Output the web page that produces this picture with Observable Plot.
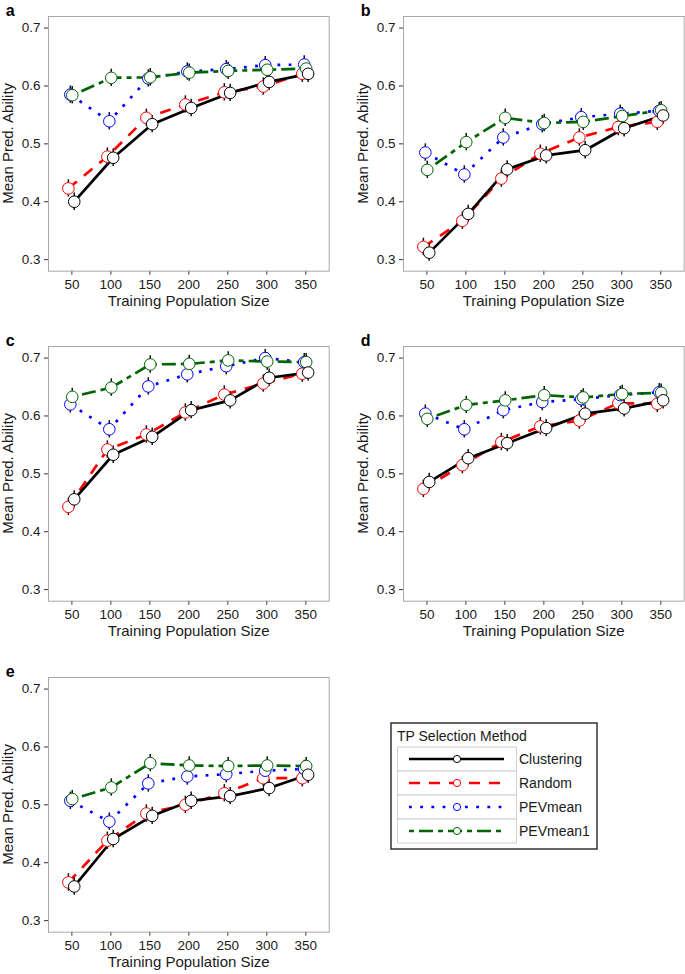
<!DOCTYPE html>
<html>
<head>
<meta charset="utf-8">
<script src="https://cdn.jsdelivr.net/npm/d3@7"></script>
<script src="https://cdn.jsdelivr.net/npm/@observablehq/plot@0.6"></script>
<style>
  body { margin: 0; background: #fff; }
  #chart { position: relative; width: 685px; height: 974px; overflow: hidden; background: #fff;
           font-family: "Liberation Sans", Arial, sans-serif; color: #1a1a1a; }
  #chart > svg { position: absolute; }
  #chart > svg.panel text { font-size: 13.5px; fill: #1a1a1a; }
</style>
</head>
<body>
<div id="chart"></div>
<script>
// ---------- data ----------
const sizes = [50, 100, 150, 200, 250, 300, 350];
const yTicks = [0.3, 0.4, 0.5, 0.6, 0.7];
const methods = ["Clustering", "Random", "PEVmean", "PEVmean1"];
const panelKeys = ["a", "b", "c", "d", "e"];
const legendTitle = "TP Selection Method";
const xTitle = "Training Population Size";
const yTitle = "Mean Pred. Ability";

const aClustering = [0.400, 0.476, 0.534, 0.562, 0.588, 0.607, 0.621];
const aRandom     = [0.423, 0.478, 0.545, 0.568, 0.589, 0.599, 0.621];
const aPEVmean    = [0.585, 0.539, 0.613, 0.625, 0.629, 0.636, 0.637];
const aPEVmean1   = [0.584, 0.614, 0.615, 0.623, 0.626, 0.628, 0.630];

const bClustering = [0.312, 0.379, 0.456, 0.480, 0.489, 0.527, 0.549];
const bRandom     = [0.322, 0.367, 0.440, 0.483, 0.511, 0.529, 0.538];
const bPEVmean    = [0.485, 0.447, 0.511, 0.534, 0.546, 0.552, 0.557];
const bPEVmean1   = [0.455, 0.503, 0.545, 0.536, 0.538, 0.548, 0.558];

const cClustering = [0.456, 0.533, 0.564, 0.610, 0.627, 0.666, 0.675];
const cRandom     = [0.443, 0.542, 0.568, 0.606, 0.637, 0.656, 0.673];
const cPEVmean    = [0.620, 0.577, 0.651, 0.672, 0.686, 0.700, 0.693];
const cPEVmean1   = [0.633, 0.649, 0.689, 0.690, 0.696, 0.694, 0.693];

const dClustering = [0.486, 0.527, 0.553, 0.579, 0.604, 0.613, 0.627];
const dRandom     = [0.474, 0.515, 0.555, 0.582, 0.592, 0.622, 0.621];
const dPEVmean    = [0.604, 0.577, 0.610, 0.624, 0.629, 0.636, 0.641];
const dPEVmean1   = [0.595, 0.619, 0.627, 0.636, 0.632, 0.638, 0.640];

const eClustering = [0.359, 0.441, 0.481, 0.507, 0.515, 0.529, 0.552];
const eRandom     = [0.366, 0.438, 0.485, 0.500, 0.520, 0.546, 0.546];
const ePEVmean    = [0.507, 0.471, 0.537, 0.549, 0.553, 0.559, 0.562];
const ePEVmean1   = [0.510, 0.530, 0.572, 0.568, 0.567, 0.568, 0.567];

const errHalf = 0.015; // half-length of the error bars

const seriesByPanel = {
  a: { Clustering: aClustering, Random: aRandom, PEVmean: aPEVmean, PEVmean1: aPEVmean1 },
  b: { Clustering: bClustering, Random: bRandom, PEVmean: bPEVmean, PEVmean1: bPEVmean1 },
  c: { Clustering: cClustering, Random: cRandom, PEVmean: cPEVmean, PEVmean1: cPEVmean1 },
  d: { Clustering: dClustering, Random: dRandom, PEVmean: dPEVmean, PEVmean1: dPEVmean1 },
  e: { Clustering: eClustering, Random: eRandom, PEVmean: ePEVmean, PEVmean1: ePEVmean1 }
};

// ---------- styles / layout ----------
const colors = { Clustering: "#000000", Random: "#ff0000", PEVmean: "#0000ff", PEVmean1: "#006400" };
const dashes = { Clustering: null, Random: "11,9", PEVmean: "2.8,8.4", PEVmean1: "5,5,14,5" };
const dodge = { Random: -4.5, PEVmean: -2, PEVmean1: 0.5, Clustering: 3 };
const drawOrder = ["Random", "PEVmean", "PEVmean1", "Clustering"];

// frame rectangles (left, top) of each panel
const frames = {
  a: { left: 48.3, top: 16 },
  b: { left: 403.3, top: 16 },
  c: { left: 48.3, top: 346 },
  d: { left: 403.3, top: 346 },
  e: { left: 48.3, top: 677 }
};
const frameW = 280.7, frameH = 254.7;
const mL = 48, mT = 16, mR = 2, mB = 26;

const chart = document.getElementById("chart");
const FONT = '"Liberation Sans", Arial, sans-serif';

for (const key of panelKeys) {
  const rows = [];
  for (const m of methods) {
    seriesByPanel[key][m].forEach((v, i) => rows.push({ method: m, n: sizes[i], v, xd: sizes[i] + dodge[m] }));
  }
  const marks = [Plot.frame({ stroke: "#a8a8a8", strokeWidth: 1 })];
  for (const m of drawOrder) {
    marks.push(Plot.line(rows.filter(r => r.method === m), {
      x: "xd", y: "v", stroke: colors[m], strokeWidth: 2.7,
      strokeDasharray: dashes[m] || undefined, strokeLinecap: "butt", strokeLinejoin: "round"
    }));
  }
  marks.push(Plot.ruleX(rows, { x: "xd", y1: d => d.v - errHalf, y2: d => d.v + errHalf, stroke: "#111", strokeWidth: 1.5 }));
  for (const m of drawOrder) {
    marks.push(Plot.dot(rows.filter(r => r.method === m), {
      x: "xd", y: "v", r: 5.8, fill: "white", stroke: colors[m], strokeWidth: 1
    }));
  }
  const W = mL + frameW + mR, H = mT + frameH + mB;
  const svg = Plot.plot({
    width: W, height: H,
    marginLeft: mL, marginRight: mR, marginTop: mT, marginBottom: mB,
    x: { domain: [20, 380], ticks: sizes, tickSize: 4, tickPadding: 4, label: null, tickFormat: d => String(d) },
    y: { domain: [0.28, 0.72], ticks: yTicks, tickSize: 4, tickPadding: 4, label: null, tickFormat: d3.format(".1f") },
    style: { fontFamily: FONT, fontSize: "13.5px", color: "#333", background: "transparent", overflow: "visible" },
    marks
  });
  const f = frames[key];
  svg.classList.add("panel");
  svg.style.position = "absolute";
  svg.style.left = (f.left - mL) + "px";
  svg.style.top = (f.top - mT) + "px";
  chart.appendChild(svg);
}

// ---------- overlay: titles, panel letters, legend ----------
const ns = "http://www.w3.org/2000/svg";
const ov = document.createElementNS(ns, "svg");
ov.setAttribute("width", 685); ov.setAttribute("height", 974);
ov.style.left = "0px"; ov.style.top = "0px"; ov.style.pointerEvents = "none";
ov.style.fontFamily = FONT;
chart.appendChild(ov);
function el(tag, attrs, text) {
  const e = document.createElementNS(ns, tag);
  for (const k in attrs) e.setAttribute(k, attrs[k]);
  if (text != null) e.textContent = text;
  ov.appendChild(e);
  return e;
}
for (const key of panelKeys) {
  const f = frames[key];
  const cx = f.left + frameW / 2, cy = f.top + frameH / 2;
  el("text", { x: cx, y: f.top + frameH + 35, "text-anchor": "middle", "font-size": 15, fill: "#1a1a1a" }, xTitle);
  el("text", { x: 0, y: 0, "text-anchor": "middle", "font-size": 15, fill: "#1a1a1a",
               transform: `translate(${f.left - 35},${cy}) rotate(-90)` }, yTitle);
  el("text", { x: f.left - 42.5, y: f.top, "font-size": 16, "font-weight": "bold", fill: "#000" }, key);
}
// legend
el("rect", { x: 391, y: 723, width: 206, height: 126, fill: "white", stroke: "#333", "stroke-width": 1.5 });
el("text", { x: 397, y: 741, "font-size": 14, fill: "#1a1a1a" }, legendTitle);
methods.forEach((m, i) => {
  const top = 747 + 24 * i, cy = top + 12;
  el("rect", { x: 397.5, y: top, width: 119, height: 24, fill: "white", stroke: "#d0d0d0", "stroke-width": 1 });
  const ln = el("line", { x1: 409, x2: 504, y1: cy, y2: cy, stroke: colors[m], "stroke-width": 2.7 });
  if (dashes[m]) ln.setAttribute("stroke-dasharray", dashes[m]);
  el("circle", { cx: 457, cy, r: 3.6, fill: "white", stroke: colors[m], "stroke-width": 1 });
  el("text", { x: 519, y: cy + 5, "font-size": 14, fill: "#1a1a1a" }, m);
});
</script>
</body>
</html>
